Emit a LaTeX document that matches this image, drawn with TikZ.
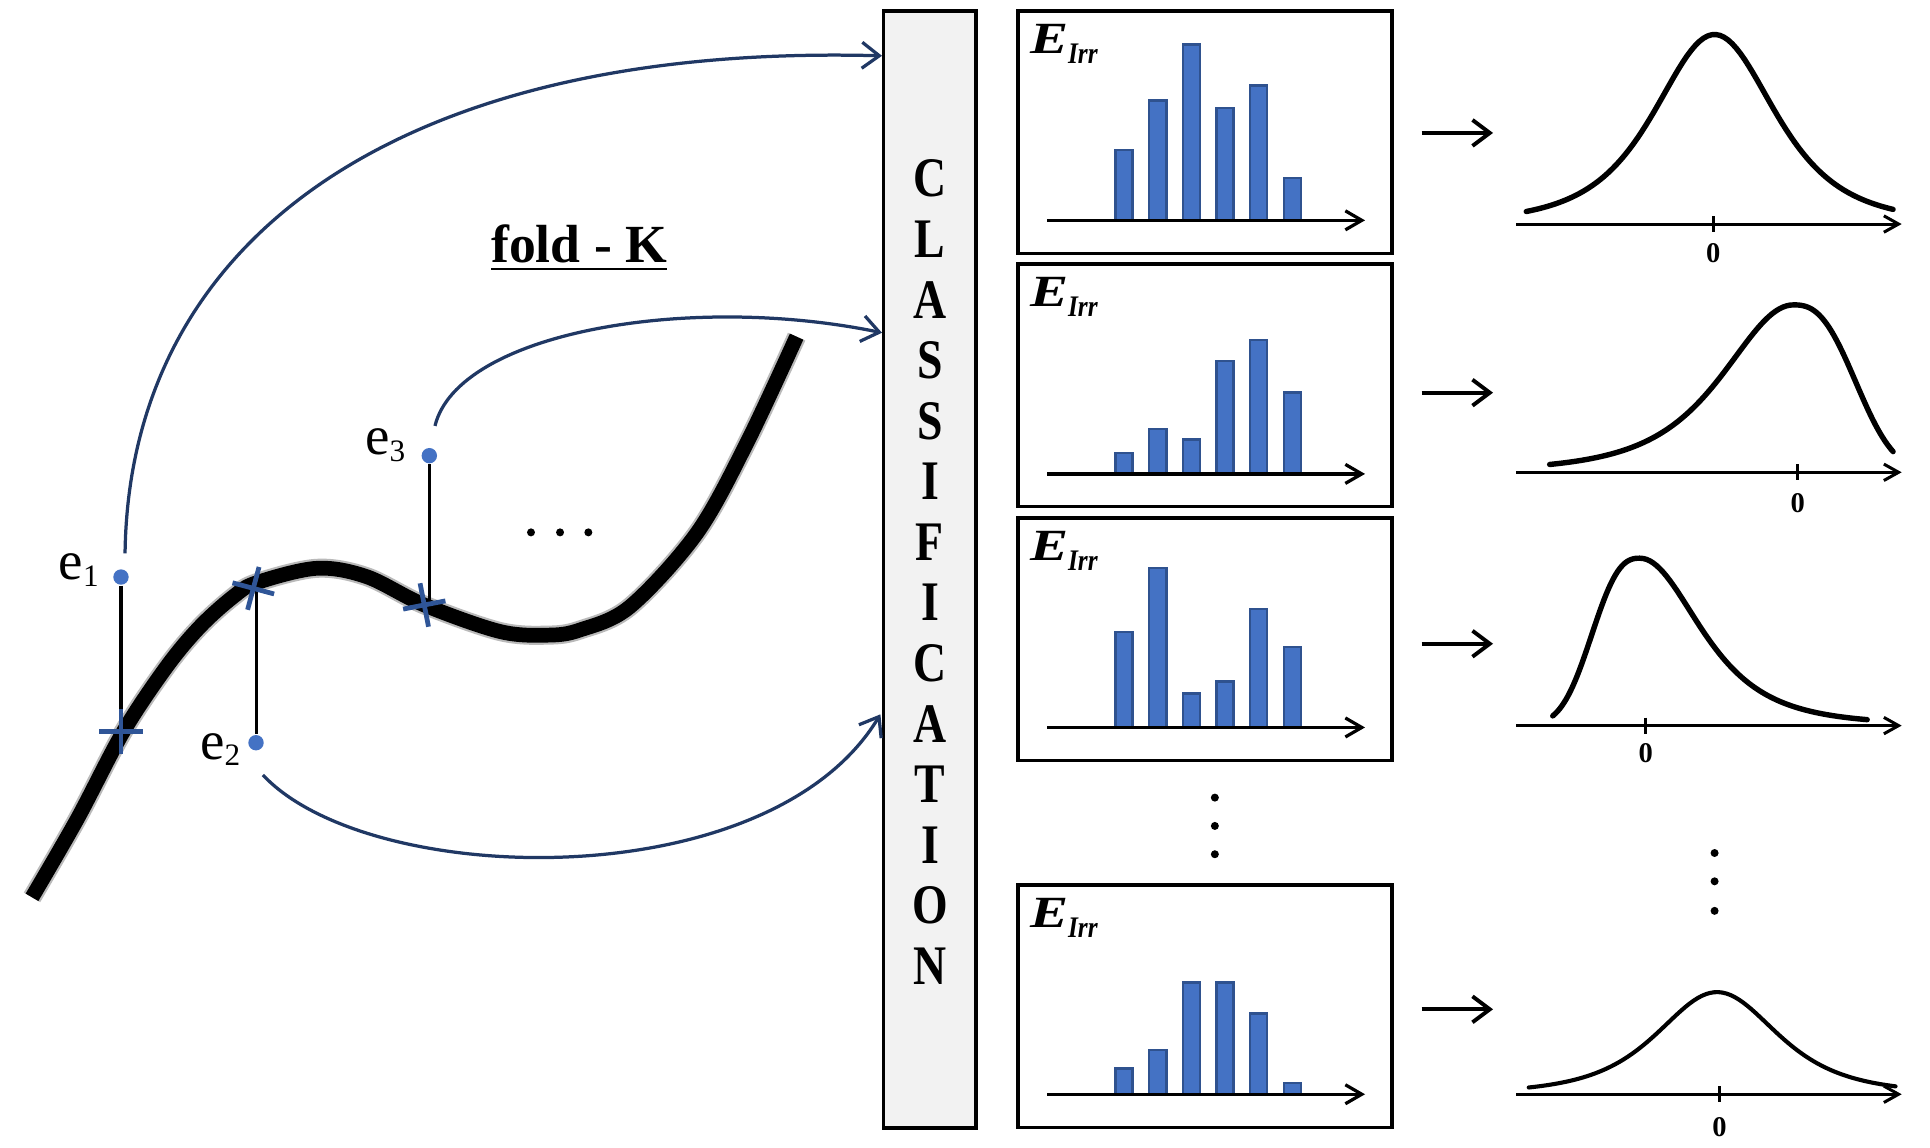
\documentclass[tikz,border=0pt]{standalone}
\usepackage{fontspec}
\usepackage{graphicx}
\setmainfont{Liberation Serif}
\usetikzlibrary{arrows.meta,calc}
\definecolor{barfill}{HTML}{4472C4}
\definecolor{barline}{HTML}{2F528F}
\definecolor{navy}{HTML}{203864}
\definecolor{crossblue}{HTML}{2F5597}
\definecolor{dotblue}{HTML}{4472C4}
\definecolor{clsgray}{HTML}{F2F2F2}
\tikzset{
  hbox/.style={draw, line width=0.8pt, minimum width=3.04cm, minimum height=1.97cm, inner sep=0pt},
  clsbox/.style={draw, fill=clsgray, line width=0.8pt, minimum width=0.75cm, minimum height=9.07cm, inner sep=0pt},
  clsletter/.style={inner sep=0pt, font=\fontsize{12.9}{13}\selectfont\bfseries},
  bar/.style={fill=barfill, draw=barline, line width=0.55pt},
  haxis/.style={line width=0.75pt, -{Straight Barb[length=3.8pt,width=4.4pt,line width=0.75pt]}},
  raxis/.style={line width=0.7pt, -{Straight Barb[length=3.4pt,width=3.8pt,line width=0.7pt]}},
  ticks/.style={line width=0.7pt},
  marrow/.style={line width=0.9pt, -{Straight Barb[length=4pt,width=6pt,line width=0.9pt]}},
  bell/.style={line width=1.25pt, line cap=round, line join=round},
  zero/.style={inner sep=0pt, font=\fontsize{6.6}{7}\selectfont\bfseries},
  elabel/.style={inner sep=0pt, anchor=base west},
  edot/.style={circle, fill=dotblue, inner sep=0pt, minimum size=0.125cm},
  ename/.style={inner sep=0pt, anchor=base west, font=\fontsize{12.7}{13}\selectfont},
  vline/.style={line width=0.7pt},
  crossst/.style={draw=crossblue, line width=1.1pt},
  navyarrow/.style={draw=navy, line width=0.75pt, -{Straight Barb[length=4pt,width=6pt,line width=0.75pt]}},
  bigdot/.style={circle, fill=black, inner sep=0pt, minimum size=0.065cm},
}
\newcommand\eirr{{\fontsize{10.3}{11}\selectfont\bfseries\itshape\scalebox{1.28}[1]{E}}\raisebox{-2.3pt}{\fontsize{6.9}{7}\selectfont\bfseries\itshape\scalebox{0.85}[1]{Irr}}}
\begin{document}
\begin{tikzpicture}[x=0.01cm,y=-0.01cm]
\useasboundingbox (0,0) rectangle (1568,932);
\fill[white] (0,0) rectangle (1568,932);

% ---------------- thick black curve ----------------
\draw[black!45, line width=4.4pt, line cap=butt, opacity=0.6] plot[smooth, tension=0.55] coordinates {
 (26,729) (63,665) (100.2,594.4) (135.4,541.6) (162.5,509.1) (189.6,484.7) (208.5,473.4)
 (257.3,461.7) (297.9,468.5) (344.7,491.5) (406,513) (445,516) (471.2,511.8) (511.8,492.9)
 (566,433.3) (606.6,360.2) (647.2,273.5)};
\draw[black, line width=3.4pt, line cap=butt] plot[smooth, tension=0.55] coordinates {
 (26,729) (63,665) (100.2,594.4) (135.4,541.6) (162.5,509.1) (189.6,484.7) (208.5,473.4)
 (257.3,461.7) (297.9,468.5) (344.7,491.5) (406,513) (445,516) (471.2,511.8) (511.8,492.9)
 (566,433.3) (606.6,360.2) (647.2,273.5)};

% ---------------- points, lines, crosses ----------------
\node[edot] (e1) at (98.3,468.8) {};
\node[edot] (e2) at (208,603.4) {};
\node[edot] (e3) at (348.8,370.2) {};
\coordinate (x1) at (98.3,594.4);
\coordinate (x2) at (205.8,478);
\coordinate (x3) at (344.7,491.5);
\draw[vline] (e1) -- (e1 |- x1);
\draw[vline] (e2) -- (e2 |- x2);
\draw[vline] (e3) -- (e3 |- x3);
\draw[crossst] (x1) ++(0:17.5) -- ++(180:35);
\draw[crossst] (x1) ++(90:18) -- ++(270:36);
\draw[crossst] (x2) ++(15:17.5) -- ++(195:35);
\draw[crossst] (x2) ++(105:18) -- ++(285:36);
\draw[crossst] (x3) ++(-11:17.5) -- ++(169:35);
\draw[crossst] (x3) ++(79:18) -- ++(259:36);

\node[ename] (l1) at (47,471) {e\raisebox{-1.5pt}{\fontsize{7.2}{8}\selectfont 1}};
\node[ename] (l2) at (162,617) {e\raisebox{-1.5pt}{\fontsize{7.2}{8}\selectfont 2}};
\node[ename] (l3) at (296,369.5) {e\raisebox{-1.5pt}{\fontsize{7.2}{8}\selectfont 3}};

% dots
\node[bigdot] (d1) at (431.4,432.5) {};
\node[bigdot] (d2) at (455,432.5) {};
\node[bigdot] (d3) at (478,432.5) {};

% fold - K
\node[inner sep=0pt, anchor=base, font=\fontsize{12.4}{13}\selectfont\bfseries] (fold) at (470.5,213) {\underline{fold - K}};

% ---------------- classification box ----------------
\node[clsbox] (cls) at (755.5,462.5) {};
\foreach \L [count=\i from 0] in {C,L,A,S,S,I,F,I,C,A,T,I,O,N}
  \node[clsletter] (cl\i) at (755.5,{145+\i*49.23}) {\scalebox{0.82}[1]{\L}};

% ---------------- navy arrows ----------------
\coordinate (s1) at ($(e1)+(3.3,-19.3)$);
\coordinate (s3) at ($(e3)+(4.6,-24.2)$);
\coordinate (s2) at ($(e2)+(5.6,26.2)$);
\coordinate (t1) at ($(cls.north west)+(0,38)$);
\coordinate (t2) at ($(cls.north west)+(0,263)$);
\coordinate (t3) at ($(cls.north west)+(-1.3,573)$);
\draw[navyarrow] (s1) .. controls (105,190) and (330,35) .. (t1);
\draw[navyarrow] (s3) .. controls (372,270) and (560,238) .. (t2);
\draw[navyarrow] (s2) .. controls (300,722) and (625,730) .. (t3);

% ---------------- histograms ----------------
\node[hbox] (h1) at (979,107.5) {};
\node[hbox] (h2) at (979,313) {};
\node[hbox] (h3) at (979,519.5) {};
\node[hbox] (h4) at (979,817.5) {};
\foreach \b in {1,2,3,4}
  \node[elabel] (lab\b) at ($(h\b.north west)+(10.6,35.7)$) {\eirr};

\foreach \h [count=\i from 0] in {121.6,81.5,36,87.5,69.6,144.4}
  \draw[bar] ({906.2+\i*27.35},179) rectangle ({920.2+\i*27.35},\h);
\foreach \h [count=\i from 0] in {367.8,348.3,357.2,293.5,276,319}
  \draw[bar] ({906.2+\i*27.35},385) rectangle ({920.2+\i*27.35},\h);
\foreach \h [count=\i from 0] in {513.2,461.2,563.3,553.8,495,525.4}
  \draw[bar] ({906.2+\i*27.35},591) rectangle ({920.2+\i*27.35},\h);
\foreach \h [count=\i from 0] in {868.2,852.8,798.3,798.3,823.3,880}
  \draw[bar] ({906.2+\i*27.35},889) rectangle ({920.2+\i*27.35},\h);

\draw[haxis] (850.7,179) -- (1109,179);
\draw[haxis] (850.7,385) -- (1109,385);
\draw[haxis] (850.7,591) -- (1109,591);
\draw[haxis] (850.7,889) -- (1109,889);

% vertical dots under histograms
\node[bigdot] (vd1) at (987,648) {};
\node[bigdot] (vd2) at (987,671) {};
\node[bigdot] (vd3) at (987,694) {};

% ---------------- middle arrows ----------------
\coordinate (m1s) at (1155,108);  \coordinate (m1e) at (1213,108);
\coordinate (m2s) at (1155,319);  \coordinate (m2e) at (1213,319);
\coordinate (m3s) at (1155,523);  \coordinate (m3e) at (1213,523);
\coordinate (m4s) at (1155,820);  \coordinate (m4e) at (1213,820);
\draw[marrow] (m1s) -- (m1e);
\draw[marrow] (m2s) -- (m2e);
\draw[marrow] (m3s) -- (m3e);
\draw[marrow] (m4s) -- (m4e);

% ---------------- right distributions ----------------
% curve 1
\draw[raxis] (1232,182) -- (1545,182);
\draw[ticks] (1392,175.5) -- (1392,188.5);
\node[zero] (z1) at (1392,206) {0};
\draw[bell] plot[domain=1240:1538, samples=90] (\x, {182-154/(1+((\x-1393)/90)^2)^2});
% curve 2
\draw[raxis] (1232,383.7) -- (1545,383.7);
\draw[ticks] (1460.5,377.2) -- (1460.5,390.2);
\node[zero] (z2) at (1460.5,408.5) {0};
\draw[bell] plot[domain=1259:1457, samples=70] (\x, {383.7-136/(1+((\x-1457)/104)^2)^2})
  -- plot[domain=1457:1538, samples=40] (\x, {383.7-136*exp(-(((\x-1457)/61)+0.0001)^2.6)});
% curve 3
\draw[raxis] (1232,589.5) -- (1545,589.5);
\draw[ticks] (1337,583) -- (1337,596);
\node[zero] (z3) at (1337,612) {0};
\draw[bell] plot[domain=1261.5:1332.4, samples=40] (\x, {589.5-136*exp(-(((1332.4-\x)/47.4)+0.0001)^2.6)})
  -- plot[domain=1332.4:1517, samples=70] (\x, {589.5-136/(1+((\x-1332.4)/89)^2)^2});
% vertical dots
\node[bigdot] (rd1) at (1393,693) {};
\node[bigdot] (rd2) at (1393,716) {};
\node[bigdot] (rd3) at (1393,740) {};
% curve 4
\draw[raxis] (1232,889) -- (1545,889);
\draw[ticks] (1397,882.5) -- (1397,895.5);
\node[zero] (z4) at (1397,916) {0};
\draw[bell, line width=0.95pt] plot[domain=1242:1540, samples=90] (\x, {889-83/(1+((\x-1395)/90)^2)^2});
\end{tikzpicture}
\end{document}
